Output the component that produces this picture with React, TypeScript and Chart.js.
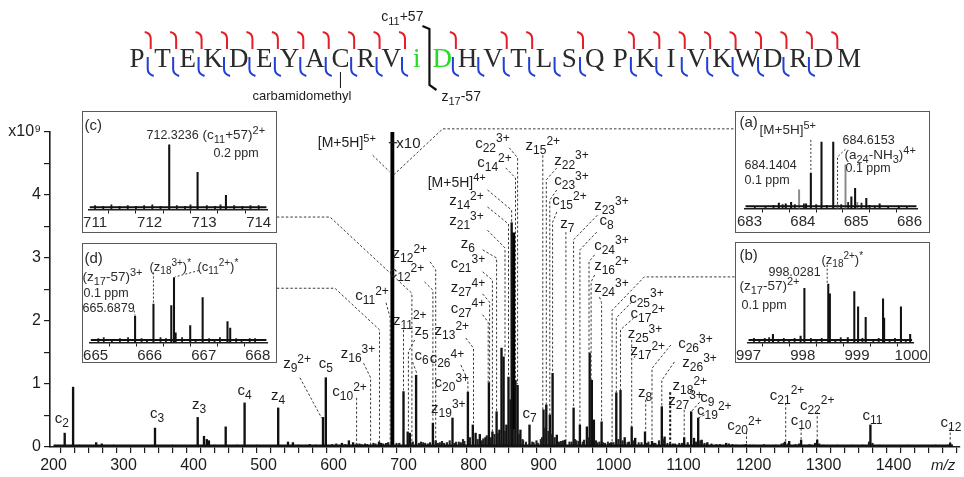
import React, { useEffect, useRef } from "react";
import { Chart, registerables } from "chart.js";
Chart.register(...registerables);

const FONT = '"Liberation Sans", Arial, Helvetica, sans-serif';
const SEQFONT = '"Liberation Serif", "Courier New", serif';
const INK = "#1c1c1c";

// ---------------- main spectrum (m/z, intensity x10^9) ----------------
const peakMz = [216, 228, 261, 269, 286, 345, 406, 415, 419, 422, 446, 473, 521, 535, 542, 566, 585, 589, 612, 622, 628, 633, 653, 665, 668, 700, 706, 709, 713, 718, 742, 746, 770, 792, 799, 803, 809, 817, 822, 827, 833, 837, 840, 843, 847, 850, 853, 854.5, 860, 863, 867, 880, 900, 904, 909, 913, 919, 931, 943, 952, 962, 966, 969, 972, 983, 997, 1004, 1010, 1016, 1026, 1031, 1045, 1055, 1069, 1073, 1081, 1101, 1111, 1115, 1121, 1126, 1134, 1161, 1189, 1245, 1251, 1268, 1291, 1367, 1481];
const peakInt = [0.22, 0.95, 0.07, 0.05, 0.03, 0.30, 0.47, 0.17, 0.12, 0.10, 0.32, 0.70, 0.62, 0.08, 0.07, 0.04, 0.47, 1.10, 0.06, 0.10, 0.07, 0.05, 0.03, 0.08, 0.06, 0.88, 0.24, 0.22, 0.08, 1.14, 0.38, 0.10, 0.46, 0.87, 0.35, 0.22, 0.20, 0.15, 1.02, 0.24, 0.56, 0.27, 1.57, 1.43, 0.35, 1.11, 0.75, 3.56, 1.06, 0.98, 0.27, 0.35, 0.59, 0.67, 0.51, 1.17, 0.19, 0.11, 0.62, 0.35, 0.32, 1.49, 1.06, 0.43, 0.40, 0.07, 0.86, 0.90, 0.15, 0.32, 0.14, 0.24, 0.09, 0.64, 0.16, 0.05, 0.15, 0.56, 0.14, 0.46, 0.11, 0.07, 0.06, 0.04, 0.08, 0.09, 0.11, 0.11, 0.35, 0.06];
const strongMz = [684.1, 856.8];
const strongInt = [5.0, 3.4];
const noiseMz = [237, 245, 300, 322, 370, 385, 430, 455, 462, 490, 505, 550, 575, 598, 640, 645, 660, 675, 690, 722, 728, 735, 752, 758, 775, 782, 787, 812, 871, 875, 886, 892, 896, 925, 937, 947, 956, 977, 988, 992, 1020, 1036, 1050, 1060, 1077, 1088, 1094, 1140, 1147, 1165, 1175, 1200, 1215, 1232, 1240, 1260, 1280, 1300, 1320, 1340, 1356, 1380, 1400, 1420, 1440, 1460];
const noiseInt = [0.03, 0.02, 0.02, 0.02, 0.03, 0.02, 0.03, 0.02, 0.03, 0.03, 0.02, 0.03, 0.03, 0.04, 0.04, 0.05, 0.05, 0.06, 0.06, 0.06, 0.07, 0.05, 0.07, 0.06, 0.08, 0.07, 0.09, 0.10, 0.10, 0.08, 0.07, 0.06, 0.12, 0.09, 0.08, 0.10, 0.08, 0.07, 0.06, 0.08, 0.07, 0.07, 0.08, 0.06, 0.06, 0.05, 0.06, 0.05, 0.04, 0.05, 0.03, 0.03, 0.04, 0.03, 0.05, 0.04, 0.04, 0.03, 0.03, 0.03, 0.03, 0.03, 0.02, 0.03, 0.02, 0.03];
const clusterNoiseMz = [604, 617, 637, 648, 657, 671, 678, 694, 712, 725, 731, 738, 749, 755, 762, 766, 773, 779, 785, 795, 806, 814, 819, 825, 830, 835, 845, 852, 858, 865, 870, 884, 890, 898, 902, 907, 911, 916, 922, 928, 940, 945, 950, 958, 964, 975, 980, 985, 995, 1000, 1007, 1013, 1022, 1028, 1040, 1048, 1058, 1065, 1071, 1085, 1098, 1106, 1118, 1124, 1130, 1152, 1170, 1185, 1195, 1243, 1249, 1265, 1288, 1294, 1365, 1370, 1478];
const clusterNoiseInt = [0.05, 0.04, 0.05, 0.04, 0.06, 0.05, 0.07, 0.06, 0.05, 0.08, 0.06, 0.07, 0.06, 0.09, 0.07, 0.10, 0.06, 0.08, 0.12, 0.15, 0.12, 0.13, 0.18, 0.15, 0.20, 0.22, 0.25, 0.30, 0.28, 0.20, 0.12, 0.08, 0.10, 0.15, 0.30, 0.25, 0.20, 0.15, 0.08, 0.10, 0.08, 0.12, 0.09, 0.11, 0.15, 0.10, 0.08, 0.07, 0.06, 0.07, 0.12, 0.10, 0.08, 0.10, 0.07, 0.06, 0.06, 0.10, 0.12, 0.05, 0.06, 0.07, 0.08, 0.10, 0.06, 0.04, 0.04, 0.03, 0.03, 0.06, 0.05, 0.05, 0.06, 0.05, 0.08, 0.06, 0.03];
const baselineMz = [200, 1485];
const baselineInt = [0.025, 0.025];

const xTickLabels = [200, 300, 400, 500, 600, 700, 800, 900, 1000, 1100, 1200, 1300, 1400];
const yTickLabels = [0, 1, 2, 3, 4];

// annotation labels: text, label position (m/z, intensity), dashed leader path
const mainLabels = [
  { t: "c_{2}", x: 212, y: 0.46 },
  { t: "c_{3}", x: 348, y: 0.54 },
  { t: "z_{3}", x: 408, y: 0.68 },
  { t: "c_{4}", x: 473, y: 0.9 },
  { t: "z_{4}", x: 521, y: 0.83 },
  { t: "z_{9}^{2+}", x: 548, y: 1.33, p: [[552, 1.1], [583, 0.46]] },
  { t: "c_{5}", x: 589, y: 1.33 },
  { t: "c_{10}^{2+}", x: 623, y: 0.89, p: [[633, 0.78], [633, 0.03]] },
  { t: "z_{16}^{3+}", x: 635, y: 1.49, p: [[643, 1.33], [653, 1.1], [653, 0.03]] },
  { t: "[M+5H]^{5+}", x: 619, y: 4.83, s: 14, p: [[656, 4.63], [680, 4.37]] },
  { t: "x10", x: 707, y: 4.83 },
  { t: "c_{11}^{2+}", x: 655, y: 2.41, p: [[675, 2.29], [681, 2.05], [681, 0.03]] },
  { t: "z_{12}^{2+}", x: 709, y: 3.08, p: [[738, 2.94], [746, 2.81], [746, 0.03]] },
  { t: "c_{12}^{2+}", x: 705, y: 2.78, p: [[730, 2.62], [742, 2.49], [742, 0.4]] },
  { t: "z_{11}^{2+}", x: 709, y: 2.02, p: [[700, 1.86], [700, 0.9]] },
  { t: "z_{5}", x: 726, y: 1.86, p: [[716, 1.7], [707, 1.51], [707, 0.27]] },
  { t: "c_{6}", x: 726, y: 1.46, p: [[713, 1.35], [719, 1.17]] },
  { t: "z_{13}^{2+}", x: 769, y: 1.86, p: [[789, 1.73], [800, 1.57], [800, 0.38]] },
  { t: "c_{26}^{4+}", x: 762, y: 1.41, p: [[782, 1.3], [792, 1.06], [792, 0.87]] },
  { t: "c_{20}^{3+}", x: 769, y: 1.03 },
  { t: "z_{19}^{3+}", x: 764, y: 0.62 },
  { t: "c_{7}", x: 880, y: 0.54 },
  { t: "c_{22}^{3+}", x: 827, y: 4.83, p: [[851, 4.75], [863, 4.59], [863, 1.0]] },
  { t: "c_{14}^{2+}", x: 830, y: 4.52, p: [[846, 4.43], [860, 4.27], [860, 1.06]] },
  { t: "[M+5H]^{4+}", x: 776, y: 4.21, s: 14, p: [[820, 4.08], [854.5, 3.76], [854.5, 3.56]] },
  { t: "z_{14}^{2+}", x: 790, y: 3.92, p: [[820, 3.81], [850, 3.54], [850, 1.11]] },
  { t: "z_{21}^{3+}", x: 790, y: 3.6, p: [[820, 3.44], [845, 3.16], [845, 1.45]] },
  { t: "z_{6}", x: 792, y: 3.24, p: [[813, 3.13], [833, 3.0], [833, 0.56]] },
  { t: "c_{21}^{3+}", x: 792, y: 2.92, p: [[813, 2.78], [827, 2.65], [827, 0.24]] },
  { t: "z_{27}^{4+}", x: 792, y: 2.54, p: [[813, 2.43], [823, 2.3], [823, 1.02]] },
  { t: "c_{27}^{4+}", x: 792, y: 2.21, p: [[813, 2.1], [821, 1.98], [821, 1.02]] },
  { t: "z_{15}^{2+}", x: 899, y: 4.79, p: [[899, 4.63], [899, 0.59]] },
  { t: "z_{22}^{3+}", x: 940, y: 4.56, p: [[919, 4.43], [904, 4.24], [904, 0.67]] },
  { t: "c_{23}^{3+}", x: 940, y: 4.24, p: [[919, 4.08], [909, 3.92], [909, 0.51]] },
  { t: "c_{15}^{2+}", x: 937, y: 3.92, p: [[919, 3.73], [913, 3.57], [913, 1.17]] },
  { t: "z_{7}", x: 934, y: 3.56, p: [[932, 3.41], [932, 0.11]] },
  { t: "z_{23}^{3+}", x: 997, y: 3.84, p: [[977, 3.68], [943, 3.29], [943, 0.62]] },
  { t: "c_{8}", x: 990, y: 3.6, p: [[976, 3.41], [952, 3.13], [952, 0.35]] },
  { t: "c_{24}^{3+}", x: 997, y: 3.21, p: [[973, 3.05], [965, 2.94], [965, 1.49]] },
  { t: "z_{16}^{2+}", x: 997, y: 2.89, p: [[973, 2.73], [968, 2.62], [968, 1.06]] },
  { t: "z_{24}^{3+}", x: 997, y: 2.54, p: [[980, 2.38], [983, 2.29], [983, 0.4]] },
  { t: "c_{25}^{3+}", x: 1047, y: 2.37, p: [[1026, 2.3], [1004, 2.05], [1004, 0.86]] },
  { t: "c_{17}^{2+}", x: 1049, y: 2.13, p: [[1029, 2.05], [1010, 1.86], [1010, 0.9]] },
  { t: "z_{25}^{3+}", x: 1045, y: 1.81, p: [[1026, 1.7], [1026, 0.32]] },
  { t: "z_{17}^{2+}", x: 1049, y: 1.54, p: [[1031, 1.45], [1028, 1.38]] },
  { t: "c_{26}^{3+}", x: 1117, y: 1.65, p: [[1082, 1.62], [1055, 1.25], [1055, 0.09]] },
  { t: "z_{26}^{3+}", x: 1123, y: 1.35, p: [[1087, 1.35], [1069, 1.06], [1069, 0.64]] },
  { t: "z_{8}", x: 1045, y: 0.87, p: [[1046, 0.75], [1046, 0.24]] },
  { t: "z_{18}^{2+}", x: 1109, y: 0.98, p: [[1081, 0.87], [1081, 0.05]], bold: true },
  { t: "z_{27}^{3+}", x: 1103, y: 0.75, p: [[1101, 0.59], [1101, 0.15]] },
  { t: "c_{9}", x: 1134, y: 0.79, p: [[1123, 0.71], [1111, 0.56]] },
  { t: "c_{19}^{2+}", x: 1144, y: 0.59, p: [[1130, 0.51], [1121, 0.46]] },
  { t: "c_{20}^{2+}", x: 1187, y: 0.35, p: [[1190, 0.24], [1190, 0.04]] },
  { t: "c_{21}^{2+}", x: 1248, y: 0.83, p: [[1246, 0.7], [1246, 0.08]] },
  { t: "c_{10}", x: 1268, y: 0.43, p: [[1268, 0.3], [1268, 0.11]] },
  { t: "c_{22}^{2+}", x: 1291, y: 0.67, p: [[1291, 0.56], [1291, 0.11]] },
  { t: "c_{11}", x: 1370, y: 0.51 },
  { t: "c_{12}", x: 1482, y: 0.4, p: [[1481, 0.3], [1481, 0.06]] },
];
// leaders joining the insets to their peaks
const insetLeaders = [
  [[686, 4.32], [756, 5.05], [1173, 5.05]],
  [[519, 3.65], [595, 3.65], [712, 2.44], [712, 0.03]],
  [[519, 2.52], [602, 2.52], [665.7, 1.86], [665.7, 0.03]],
  [[1173, 2.7], [1044, 2.7], [998, 2.17], [998, 0.07]],
];
const x10Mark = [[679, 4.83], [691, 4.83]];

// ---------------- peptide sequence ----------------
const seqLetters = ["P", "T", "E", "K", "D", "E", "Y", "A", "C", "R", "V", "i", "D", "H", "V", "T", "L", "S", "Q", "P", "K", "I", "V", "K", "W", "D", "R", "D", "M"];
const seqGreen = [11, 12];
const cBreaks = [0, 1, 2, 3, 4, 5, 6, 7, 8, 9, 10, 12, 14, 15, 17, 19, 20, 21, 22, 23, 24, 25, 26, 27];
const zBreaks = [0, 1, 2, 3, 4, 5, 6, 7, 8, 9, 10, 12, 13, 14, 15, 16, 17, 19, 20, 21, 22, 23, 24, 25, 26];

// ---------------- insets ----------------
const insetA_mz = [683.55, 683.68, 683.78, 684.06, 684.15, 684.35, 684.57, 684.91, 684.98, 685.19, 685.44, 685.8];
const insetA_int = [0.07, 0.06, 0.08, 0.06, 0.45, 0.85, 0.85, 0.15, 0.26, 0.13, 0.06, 0.03];
const insetA_greyMz = [683.93, 684.65, 684.8, 685.02];
const insetA_greyInt = [0.24, 0.05, 0.56, 0.08];
const insetA_noiseMz = [683.1, 683.3, 683.45, 683.62, 683.85, 684.02, 684.25, 684.45, 684.72, 684.85, 685.1, 685.25, 685.35, 685.6, 685.95];
const insetA_noiseInt = [0.02, 0.02, 0.04, 0.05, 0.05, 0.06, 0.05, 0.04, 0.05, 0.08, 0.07, 0.04, 0.03, 0.02, 0.02];

const insetB_mz = [997.45, 997.96, 998.03, 998.47, 998.5, 998.83, 998.95, 999.02, 999.16, 999.48, 999.5, 999.81, 999.98];
const insetB_int = [0.1, 0.08, 0.67, 0.72, 0.6, 0.06, 0.63, 0.44, 0.31, 0.54, 0.3, 0.44, 0.1];
const insetB_noiseMz = [997.1, 997.2, 997.3, 997.38, 997.55, 997.65, 997.75, 997.85, 998.15, 998.25, 998.35, 998.6, 998.7, 999.1, 999.3, 999.4, 999.6, 999.7, 999.9];
const insetB_noiseInt = [0.05, 0.04, 0.05, 0.06, 0.04, 0.05, 0.04, 0.05, 0.05, 0.04, 0.05, 0.04, 0.06, 0.05, 0.04, 0.05, 0.04, 0.05, 0.04];

const insetC_mz = [712.36, 712.88, 713.4];
const insetC_int = [0.82, 0.47, 0.18];
const insetC_noiseMz = [711.0, 711.15, 711.3, 711.45, 711.6, 711.75, 711.9, 712.05, 712.2, 712.5, 712.65, 712.75, 713.05, 713.2, 713.3, 713.55, 713.7, 713.85, 714.0];
const insetC_noiseInt = [0.05, 0.04, 0.06, 0.04, 0.05, 0.04, 0.05, 0.06, 0.04, 0.05, 0.04, 0.06, 0.05, 0.04, 0.06, 0.05, 0.04, 0.05, 0.05];

const insetD_mz = [665.73, 666.07, 666.4, 666.45, 666.48, 666.75, 666.98, 667.44, 667.49];
const insetD_int = [0.33, 0.48, 0.46, 0.81, 0.12, 0.21, 0.56, 0.26, 0.18];
const insetD_noiseMz = [665.05, 665.15, 665.3, 665.45, 665.6, 665.85, 665.95, 666.2, 666.3, 666.6, 666.85, 667.1, 667.2, 667.3, 667.6, 667.7, 667.85, 667.95];
const insetD_noiseInt = [0.05, 0.06, 0.04, 0.05, 0.06, 0.05, 0.04, 0.06, 0.05, 0.06, 0.04, 0.05, 0.04, 0.06, 0.05, 0.04, 0.05, 0.05];

const insets = [
  {
    id: "a", left: 735, top: 111, w: 195, h: 122, axisY: 209, areaL: 745, areaR: 918, min: 682.906, max: 686.15,
    ticks: [683, 683.5, 684, 684.5, 685, 685.5, 686],
    mz: insetA_mz, int: insetA_int, greyMz: insetA_greyMz, greyInt: insetA_greyInt, noiseMz: insetA_noiseMz, noiseInt: insetA_noiseInt,
    texts: [
      { t: "(a)", x: 5, y: 11, s: 15 },
      { t: "[M+5H]^{5+}", x: 25, y: 19, s: 13.5 },
      { t: "684.1404", x: 10, y: 54, s: 12.5 },
      { t: "0.1 ppm", x: 10, y: 69, s: 12.5 },
      { t: "684.6153", x: 108, y: 29, s: 12.5 },
      { t: "(a_{24}-NH_{3})^{4+}", x: 110, y: 44, s: 13.5 },
      { t: "0.1 ppm", x: 111, y: 57, s: 12.5 },
    ],
    leaders: [
      [[684.15, 0.88], [684.15, 0.46]],
      [[684.8, 0.76], [684.65, 0.66], [684.65, 0.02]],
    ],
  },
  {
    id: "b", left: 735, top: 242, w: 195, h: 121, axisY: 343, areaL: 745, areaR: 920, min: 996.98, max: 1000.035,
    ticks: [997, 997.5, 998, 998.5, 999, 999.5, 1000],
    mz: insetB_mz, int: insetB_int, greyMz: [], greyInt: [], noiseMz: insetB_noiseMz, noiseInt: insetB_noiseInt,
    texts: [
      { t: "(b)", x: 5, y: 13, s: 15 },
      { t: "998.0281", x: 34, y: 30, s: 12.5 },
      { t: "(z_{18}^{2+})^{*}", x: 87, y: 18, s: 13 },
      { t: "(z_{17}-57)^{2+}", x: 5, y: 44, s: 13.5 },
      { t: "0.1 ppm", x: 7, y: 63, s: 12.5 },
    ],
    leaders: [[[998.45, 0.96], [998.45, 0.73]]],
  },
  {
    id: "c", left: 82, top: 111, w: 195, h: 122, axisY: 210, areaL: 86, areaR: 268, min: 710.883, max: 714.162,
    ticks: [711, 711.5, 712, 712.5, 713, 713.5, 714],
    mz: insetC_mz, int: insetC_int, greyMz: [], greyInt: [], noiseMz: insetC_noiseMz, noiseInt: insetC_noiseInt,
    texts: [
      { t: "(c)", x: 3, y: 14, s: 15 },
      { t: "712.3236", x: 65, y: 24, s: 12.5 },
      { t: "(c_{11}+57)^{2+}", x: 121, y: 24, s: 13.5 },
      { t: "0.2 ppm", x: 132, y: 42, s: 12.5 },
    ],
    leaders: [],
  },
  {
    id: "d", left: 82, top: 243, w: 195, h: 120, axisY: 343, areaL: 87, areaR: 268, min: 664.891, max: 668.18,
    ticks: [665, 665.5, 666, 666.5, 667, 667.5, 668],
    mz: insetD_mz, int: insetD_int, greyMz: [], greyInt: [], noiseMz: insetD_noiseMz, noiseInt: insetD_noiseInt,
    texts: [
      { t: "(d)", x: 3, y: 15, s: 15 },
      { t: "(z_{17}-57)^{3+}", x: 1, y: 34, s: 13.5 },
      { t: "0.1 ppm", x: 2, y: 50, s: 12.5 },
      { t: "665.6879", x: 1, y: 65, s: 12.5 },
      { t: "(z_{18}^{3+})^{*}", x: 68, y: 24, s: 13 },
      { t: "(c_{11}^{2+})^{*}", x: 116, y: 24, s: 13 },
    ],
    leaders: [
      [[666.07, 0.875], [666.07, 0.49]],
      [[666.91, 0.9], [666.47, 0.82]],
      [[665.71, 0.4], [665.73, 0.34]],
    ],
  },
];

// ---------------- rich text helpers ----------------
type Seg = { t: string; m: "n" | "sub" | "sup" };
function richSegs(s: string): Seg[] {
  const out: Seg[] = [];
  let buf = "";
  let i = 0;
  while (i < s.length) {
    const c = s[i];
    if ((c === "_" || c === "^") && s[i + 1] === "{") {
      if (buf) { out.push({ t: buf, m: "n" }); buf = ""; }
      const j = s.indexOf("}", i);
      out.push({ t: s.slice(i + 2, j), m: c === "_" ? "sub" : "sup" });
      i = j + 1;
    } else { buf += c; i++; }
  }
  if (buf) out.push({ t: buf, m: "n" });
  return out;
}
function drawRich(ctx: CanvasRenderingContext2D, s: string, x: number, cy: number, size: number, align: "left" | "center" | "right", color = INK) {
  const segs = richSegs(s);
  const small = Math.round(size * 0.78);
  const fontOf = (m: string) => `${m === "n" ? size : small}px ${FONT}`;
  let w = 0;
  for (const g of segs) { ctx.font = fontOf(g.m); w += ctx.measureText(g.t).width; }
  let cx = align === "center" ? x - w / 2 : align === "right" ? x - w : x;
  const base = cy + size * 0.34;
  ctx.fillStyle = color;
  ctx.textAlign = "left";
  ctx.textBaseline = "alphabetic";
  for (const g of segs) {
    ctx.font = fontOf(g.m);
    const dy = g.m === "sub" ? size * 0.27 : g.m === "sup" ? -size * 0.36 : 0;
    ctx.fillText(g.t, cx, base + dy);
    cx += ctx.measureText(g.t).width;
  }
}
function strokePath(ctx: CanvasRenderingContext2D, pts: number[][], xs: any, ys: any) {
  ctx.beginPath();
  pts.forEach((p, i) => {
    const px = xs.getPixelForValue(p[0]);
    const py = ys.getPixelForValue(p[1]);
    if (i === 0) ctx.moveTo(px, py); else ctx.lineTo(px, py);
  });
  ctx.stroke();
}

const annotPlugin = {
  id: "annot",
  afterDatasetsDraw(chart: any) {
    const { ctx } = chart;
    const xs = chart.scales.x, ys = chart.scales.y;
    ctx.save();
    ctx.strokeStyle = "#3a3a3a";
    ctx.lineWidth = 1;
    ctx.setLineDash([2.5, 2]);
    for (const pts of insetLeaders) strokePath(ctx, pts, xs, ys);
    for (const a of mainLabels as any[]) {
      if (!a.p) continue;
      ctx.lineWidth = a.bold ? 2 : 1;
      ctx.strokeStyle = a.bold ? "#111" : "#3a3a3a";
      strokePath(ctx, a.p, xs, ys);
    }
    ctx.setLineDash([]);
    ctx.lineWidth = 1.2;
    ctx.strokeStyle = INK;
    strokePath(ctx, x10Mark, xs, ys);
    for (const a of mainLabels as any[]) {
      drawRich(ctx, a.t, xs.getPixelForValue(a.x), ys.getPixelForValue(a.y), a.s || 15, "center");
    }
    ctx.font = `italic 15px ${FONT}`;
    ctx.fillStyle = INK;
    ctx.textAlign = "left";
    ctx.textBaseline = "middle";
    ctx.fillText("m/z", 931, 466);
    ctx.restore();
  },
};

const seqPlugin = {
  id: "seq",
  afterDraw(chart: any) {
    const ctx = chart.ctx as CanvasRenderingContext2D;
    const x0 = 137, step = 25.43;
    const xOf = (i: number) => x0 + step * i;
    ctx.save();
    ctx.font = `27px ${SEQFONT}`;
    ctx.textAlign = "center";
    ctx.textBaseline = "alphabetic";
    seqLetters.forEach((l, i) => {
      ctx.fillStyle = seqGreen.includes(i) ? "#22dd22" : "#2a2a2a";
      ctx.fillText(l, xOf(i), 67);
    });
    ctx.lineWidth = 2;
    ctx.lineCap = "butt";
    ctx.strokeStyle = "#e41e26";
    for (const k of cBreaks) {
      const bx = xOf(k) + step / 2 + 1;
      ctx.beginPath();
      ctx.moveTo(bx - 6, 32);
      ctx.quadraticCurveTo(bx, 33, bx, 39);
      ctx.lineTo(bx, 49);
      ctx.stroke();
    }
    ctx.strokeStyle = "#1f3fd6";
    for (const k of zBreaks) {
      const bx = xOf(k) + step / 2 - 2;
      ctx.beginPath();
      ctx.moveTo(bx, 57);
      ctx.lineTo(bx, 69);
      ctx.quadraticCurveTo(bx, 74, bx + 6, 76);
      ctx.stroke();
    }
    // cleavage bracket between i and D
    const bb = xOf(11) + step / 2;
    ctx.strokeStyle = "#111";
    ctx.lineWidth = 2.2;
    ctx.beginPath();
    ctx.moveTo(bb - 7, 26);
    ctx.lineTo(bb, 29);
    ctx.lineTo(bb, 85);
    ctx.lineTo(bb + 7, 90);
    ctx.stroke();
    drawRich(ctx, "c_{11}+57", bb - 6, 16, 14, "right");
    drawRich(ctx, "z_{17}-57", bb + 12, 96, 14, "left");
    // carbamidomethyl on C
    ctx.strokeStyle = "#111";
    ctx.lineWidth = 1;
    ctx.beginPath();
    ctx.moveTo(xOf(8), 72);
    ctx.lineTo(xOf(8), 88);
    ctx.stroke();
    drawRich(ctx, "carbamidomethyl", 302, 96, 13, "center");
    ctx.restore();
  },
};

function MainChart() {
  const ref = useRef<HTMLCanvasElement | null>(null);
  useEffect(() => {
    const toXY = (xs: number[], ys: number[]) => xs.map((x, i) => ({ x, y: ys[i] }));
    const chart = new Chart(ref.current as HTMLCanvasElement, {
      type: "bar",
      data: {
        datasets: [
          { type: "line", data: toXY(baselineMz, baselineInt), borderColor: "#111", borderWidth: 2, pointRadius: 0 } as any,
          { type: "bar", data: toXY(noiseMz, noiseInt), backgroundColor: "#222", barThickness: 1.3, grouped: false } as any,
          { type: "bar", data: toXY(clusterNoiseMz, clusterNoiseInt), backgroundColor: "#222", barThickness: 1.5, grouped: false } as any,
          { type: "bar", data: toXY(peakMz, peakInt), backgroundColor: "#111", barThickness: 1.7, grouped: false } as any,
          { type: "bar", data: toXY(strongMz, strongInt), backgroundColor: "#000", barThickness: 3.2, grouped: false } as any,
        ],
      },
      options: {
        animation: false,
        responsive: false,
        events: [],
        layout: { padding: { top: 132, right: 4, left: 0, bottom: 0 } },
        plugins: { legend: { display: false }, tooltip: { enabled: false } },
        scales: {
          x: {
            type: "linear", min: 195, max: 1495, offset: false,
            afterBuildTicks: (s: any) => {
              const t = [];
              for (let v = xTickLabels[0]; v <= 1480; v += 20) t.push({ value: v });
              s.ticks = t;
            },
            afterFit: (s: any) => { s.height = 30; },
            grid: { drawOnChartArea: false, drawTicks: true, tickLength: 6, color: INK, lineWidth: 1.2 },
            border: { color: INK, width: 1.6 },
            ticks: {
              autoSkip: false, maxRotation: 0, padding: 3, color: INK, font: { family: FONT, size: 16 },
              callback: (v: any) => (xTickLabels.includes(v) ? String(v) : ""),
            },
          },
          y: {
            min: 0, max: 5,
            afterBuildTicks: (s: any) => {
              const t = [];
              for (let v = 0; v <= 5; v += 0.5) t.push({ value: v });
              s.ticks = t;
            },
            afterFit: (s: any) => { s.width = 50; },
            grid: { drawOnChartArea: false, drawTicks: true, tickLength: 6, color: INK, lineWidth: 1.2 },
            border: { color: INK, width: 1.6 },
            ticks: {
              autoSkip: false, padding: 3, color: INK, font: { family: FONT, size: 16 },
              callback: (v: any) => (v === 5 ? "x10⁹" : yTickLabels.includes(v) ? String(v) : ""),
            },
          },
        },
      } as any,
      plugins: [annotPlugin, seqPlugin],
    });
    return () => chart.destroy();
  }, []);
  return <canvas ref={ref} width={964} height={477} style={{ position: "absolute", left: 0, top: 0, width: 964, height: 477 }} />;
}

function InsetPanel({ cfg }: { cfg: any }) {
  const ref = useRef<HTMLCanvasElement | null>(null);
  const B = 1.5;
  const innerW = cfg.w - 2 * B, innerH = cfg.h - 2 * B;
  useEffect(() => {
    const ox = cfg.left + B, oy = cfg.top + B;
    const padL = cfg.areaL - ox;
    const padR = innerW - (cfg.areaR - ox);
    const padT = cfg.top + 20 - oy;
    const axisRel = cfg.axisY - oy;
    const xH = innerH - axisRel;
    const toXY = (xs: number[], ys: number[]) => xs.map((x, i) => ({ x, y: ys[i] }));
    const textPlugin = {
      id: "insetText" + cfg.id,
      afterDatasetsDraw(chart: any) {
        const ctx = chart.ctx;
        const xs = chart.scales.x, ys = chart.scales.y;
        ctx.save();
        ctx.strokeStyle = "#333";
        ctx.lineWidth = 1;
        ctx.setLineDash([2, 2]);
        for (const L of cfg.leaders) strokePath(ctx, L, xs, ys);
        ctx.setLineDash([]);
        for (const t of cfg.texts) drawRich(ctx, t.t, t.x - B, t.y - B, t.s, "left", "#2a2a2a");
        ctx.restore();
      },
    };
    const chart = new Chart(ref.current as HTMLCanvasElement, {
      type: "bar",
      data: {
        datasets: [
          { type: "line", data: [{ x: cfg.min + 0.02, y: 0.03 }, { x: cfg.max - 0.02, y: 0.03 }], borderColor: "#111", borderWidth: 2, pointRadius: 0 } as any,
          { type: "bar", data: toXY(cfg.noiseMz, cfg.noiseInt), backgroundColor: "#222", barThickness: 1.2, grouped: false } as any,
          { type: "bar", data: toXY(cfg.greyMz, cfg.greyInt), backgroundColor: "#8a8a8a", barThickness: 1.3, grouped: false } as any,
          { type: "bar", data: toXY(cfg.mz, cfg.int), backgroundColor: "#111", barThickness: 1.4, grouped: false } as any,
        ],
      },
      options: {
        animation: false,
        responsive: false,
        events: [],
        layout: { padding: { left: padL, right: padR, top: padT, bottom: 0 } },
        plugins: { legend: { display: false }, tooltip: { enabled: false } },
        scales: {
          x: {
            type: "linear", min: cfg.min, max: cfg.max, offset: false,
            afterBuildTicks: (s: any) => { s.ticks = cfg.ticks.map((v: number) => ({ value: v })); },
            afterFit: (s: any) => { s.height = xH; },
            grid: { drawOnChartArea: false, drawTicks: true, tickLength: 4, color: INK, lineWidth: 1 },
            border: { color: INK, width: 1.4 },
            ticks: {
              autoSkip: false, maxRotation: 0, padding: 0, color: "#2a2a2a", font: { family: FONT, size: 15 },
              callback: (v: any) => (Number.isInteger(v) ? String(v) : ""),
            },
          },
          y: { display: false, min: 0, max: 1 },
        },
      } as any,
      plugins: [textPlugin],
    });
    return () => chart.destroy();
  }, []);
  return (
    <div style={{ position: "absolute", left: cfg.left, top: cfg.top, width: cfg.w, height: cfg.h, border: `${B}px solid #5a5a5a`, boxSizing: "border-box", background: "#fff" }}>
      <canvas ref={ref} width={innerW} height={innerH} style={{ display: "block", width: innerW, height: innerH }} />
    </div>
  );
}

export default function App() {
  return (
    <div style={{ position: "absolute", left: 0, top: 0, width: 964, height: 477, background: "#fff", overflow: "hidden" }}>
      <MainChart />
      {insets.map((c) => (
        <InsetPanel key={c.id} cfg={c} />
      ))}
    </div>
  );
}
